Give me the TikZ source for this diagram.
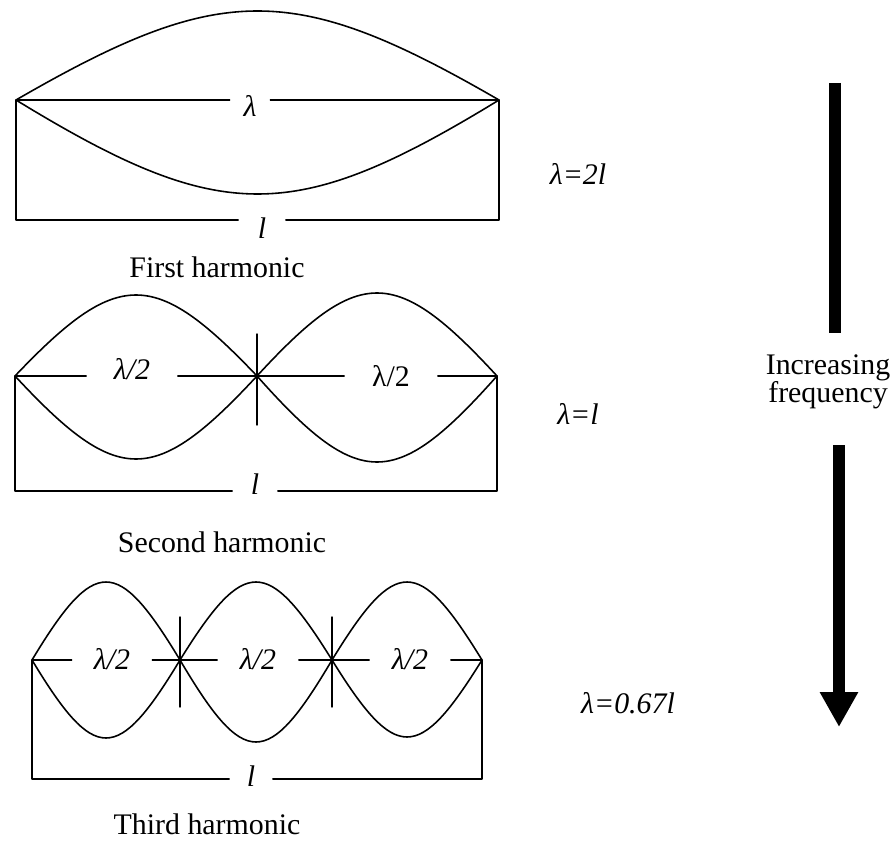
\documentclass[tikz,border=0pt]{standalone}
\usepackage{fontspec}
\setmainfont{Liberation Serif}
\usetikzlibrary{calc, arrows.meta}
\newcommand{\figfont}{\fontsize{17}{16}\selectfont}
\tikzset{
  wire/.style={line width=0.8pt, line cap=round, line join=round},
  wave/.style={line width=0.9pt},
  lab/.style={inner sep=0pt, font=\figfont\itshape},
  capt/.style={inner sep=0pt, font=\figfont},
  ratio/.style={inner sep=1pt, font=\figfont\itshape},
  freqbar/.style={line width=7pt, draw=black},
}
% half a sine between two nodes, #3 = height (negative is up)
\newcommand{\halfwave}[3]{%
  \draw[wave] (#1) .. controls ($(#1)!0.4244!(#2)+(0,{1.3333*(#3)})$)
                          and ($(#2)!0.4244!(#1)+(0,{1.3333*(#3)})$) .. (#2);}

\begin{document}
\begin{tikzpicture}[x=0.02cm, y=-0.02cm, font=\figfont]
  \useasboundingbox (0,0) rectangle (896,841);

  % --- first harmonic
  \coordinate (a1) at (16,100);
  \coordinate (a2) at (499,100);
  \halfwave{a1}{a2}{-89}
  \halfwave{a1}{a2}{94}
  \node[lab, minimum width=0.8cm] (lam1) at (250,106) {λ};
  \draw[wire] (a1) -- (lam1.west |- a1) (lam1.east |- a2) -- (a2);
  \coordinate (base1) at (262,220);
  \node[lab, minimum width=0.94cm] (len1) at (262,228) {l};
  \draw[wire] (a1) |- (base1 -| len1.west) (base1 -| len1.east) -| (a2);
  \node[capt] (cap1) at (217,267) {First harmonic};
  \node[ratio] (rat1) at (578,174) {λ=2l};

  % --- second harmonic
  \coordinate (b1) at (15,376);
  \coordinate (b2) at (257,376);
  \coordinate (b3) at (497,376);
  \halfwave{b1}{b2}{-81}
  \halfwave{b1}{b2}{83}
  \halfwave{b2}{b3}{-83}
  \halfwave{b2}{b3}{86}
  \node[lab, minimum width=1.82cm] (hb1) at (132,369) {λ/2};
  \node[lab, minimum width=1.86cm, font=\figfont\upshape] (hb2) at (391,376) {λ/2};
  \draw[wire] (b1) -- (hb1.west |- b1) (hb1.east |- b2) -- (b2)
              -- (hb2.west |- b2) (hb2.east |- b3) -- (b3);
  \draw[wire] ($(b2)+(0,-42)$) -- ($(b2)+(0,49)$);
  \coordinate (base2) at (255,491);
  \node[lab, minimum width=0.9cm] (len2) at (255,484) {l};
  \draw[wire] (b1) |- (base2 -| len2.west) (base2 -| len2.east) -| (b3);
  \node[capt] (cap2) at (222,542) {Second harmonic};
  \node[ratio] (rat2) at (578,414) {λ=l};

  % --- third harmonic
  \coordinate (c1) at (32,660);
  \coordinate (c2) at (180,660);
  \coordinate (c3) at (332,660);
  \coordinate (c4) at (482,660);
  \halfwave{c1}{c2}{-78}
  \halfwave{c1}{c2}{78}
  \halfwave{c2}{c3}{-78}
  \halfwave{c2}{c3}{82}
  \halfwave{c3}{c4}{-78}
  \halfwave{c3}{c4}{77}
  \node[lab, minimum width=1.6cm]  (hc1) at (112,659) {λ/2};
  \node[lab, minimum width=1.62cm] (hc2) at (258,659) {λ/2};
  \node[lab, minimum width=1.62cm] (hc3) at (410,659) {λ/2};
  \draw[wire] (c1) -- (hc1.west |- c1) (hc1.east |- c2) -- (c2)
              -- (hc2.west |- c2) (hc2.east |- c3) -- (c3)
              -- (hc3.west |- c3) (hc3.east |- c4) -- (c4);
  \foreach \n in {c2,c3}{ \draw[wire] ($(\n)+(0,-43)$) -- ($(\n)+(0,47)$); }
  \coordinate (base3) at (251,779);
  \node[lab, minimum width=0.86cm] (len3) at (251,776) {l};
  \draw[wire] (c1) |- (base3 -| len3.west) (base3 -| len3.east) -| (c4);
  \node[capt] (cap3) at (207,824) {Third harmonic};
  \node[ratio] (rat3) at (628,703) {λ=0.67l};

  % --- frequency arrow
  \node[capt, align=center] (freq) at (828,382) {Increasing\\frequency};
  \coordinate (ftop) at (835,83);
  \coordinate (fmid) at (835,333);
  \coordinate (flow) at (839,445);
  \coordinate (ftip) at (839,727);
  \draw[freqbar] (ftop) -- (fmid);
  \draw[freqbar, -{Triangle[width=20.4pt, length=19.8pt]}] (flow) -- (ftip);
\end{tikzpicture}
\end{document}
